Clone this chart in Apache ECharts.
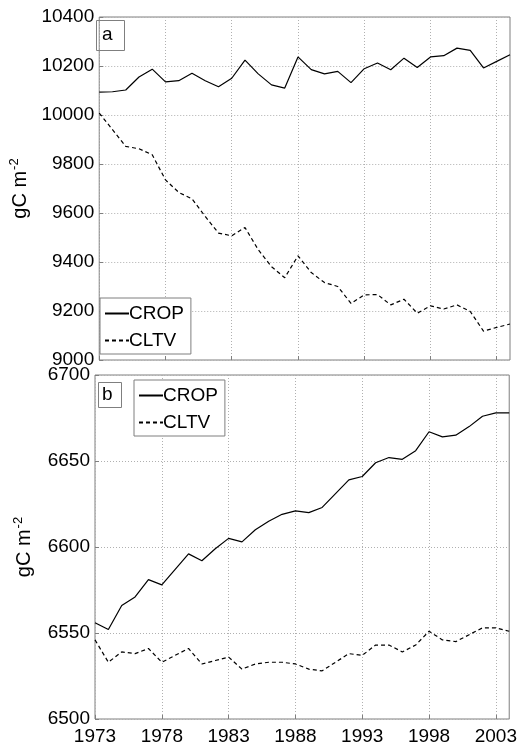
<!DOCTYPE html>
<html>
<head>
<meta charset="utf-8">
<script src="https://cdn.jsdelivr.net/npm/echarts@6/dist/echarts.min.js"></script>
<style>
  html, body { margin: 0; padding: 0; background: #fff; }
  #main { width: 520px; height: 747px; }
</style>
</head>
<body>
<div id="main"></div>
<script>
// years 1973-2004
const years = [1973, 1974, 1975, 1976, 1977, 1978, 1979, 1980, 1981, 1982, 1983, 1984, 1985, 1986, 1987, 1988,
  1989, 1990, 1991, 1992, 1993, 1994, 1995, 1996, 1997, 1998, 1999, 2000, 2001, 2002, 2003, 2004];
const xTicks = [1973, 1978, 1983, 1988, 1993, 1998, 2003];

// panel a
const cropA = [10093, 10095, 10102, 10155, 10187, 10135, 10140, 10170, 10140, 10115, 10150, 10224, 10168, 10123, 10110, 10237,
  10185, 10168, 10178, 10132, 10189, 10212, 10185, 10232, 10194, 10237, 10242, 10273, 10264, 10192, 10219, 10246];
const cltvA = [10008, 9940, 9872, 9862, 9838, 9735, 9684, 9658, 9586, 9518, 9507, 9541, 9450, 9381, 9336, 9425,
  9357, 9316, 9300, 9231, 9266, 9267, 9225, 9248, 9191, 9221, 9208, 9225, 9198, 9118, 9133, 9147];

// panel b
const cropB = [6556, 6552, 6566, 6571, 6581, 6578, 6587, 6596, 6592, 6599, 6605, 6603, 6610, 6615, 6619, 6621,
  6620, 6623, 6631, 6639, 6641, 6649, 6652, 6651, 6656, 6667, 6664, 6665, 6670, 6676, 6678, 6678];
const cltvB = [6546, 6533, 6539, 6538, 6541, 6533, 6537, 6541, 6532, 6534, 6536, 6529, 6532, 6533, 6533, 6532,
  6529, 6528, 6533, 6538, 6537, 6543, 6543, 6539, 6543, 6551, 6546, 6545, 6549, 6553, 6553, 6551];

const pairs = (vals) => years.map((y, i) => [y, vals[i]]);

const FONT = 'Liberation Sans, Arial, Helvetica, sans-serif';
const FS = 19;
const frame = '#7f7f7f';
const gridLine = { show: true, lineStyle: { color: '#b0b0b0', type: [1, 2], width: 1 } };

function xAxisFor(gridIndex, showLabels) {
  return {
    type: 'value', gridIndex, min: 1973, max: 2004, interval: 5,
    axisLine: { show: false },
    axisTick: { show: true, inside: true, length: 4, lineStyle: { color: frame }, customValues: xTicks },
    axisLabel: { show: showLabels, customValues: xTicks, color: '#000', fontSize: FS, fontFamily: FONT, margin: 8,
      formatter: (v) => String(v) },
    splitLine: gridLine
  };
}

function yAxisFor(gridIndex, min, max, interval) {
  return {
    type: 'value', gridIndex, min, max, interval,
    axisLine: { show: false },
    axisTick: { show: true, inside: true, length: 4, lineStyle: { color: frame } },
    axisLabel: { color: '#000', fontSize: FS, fontFamily: FONT, margin: 5, formatter: (v) => String(v) },
    splitLine: gridLine,
    name: '{t|gC m}{s|-2}',
    nameLocation: 'middle',
    nameRotate: 90,
    nameGap: 58,
    nameTextStyle: {
      rich: {
        t: { fontSize: 20, fontFamily: FONT, color: '#000' },
        s: { fontSize: 13, fontFamily: FONT, color: '#000', verticalAlign: 'top', padding: [0, 0, 12, 1] }
      }
    }
  };
}

function lineSeries(name, vals, idx, dashed) {
  return {
    name, type: 'line', xAxisIndex: idx, yAxisIndex: idx,
    data: pairs(vals), symbol: 'none', animation: false,
    lineStyle: { color: '#000', width: 1.2, type: dashed ? [4, 3] : 'solid' },
    itemStyle: { color: '#000' }
  };
}

const legendBase = {
  orient: 'vertical',
  data: ['CROP', 'CLTV'],
  itemWidth: 24, itemHeight: 14, itemGap: 8,
  borderColor: frame, borderWidth: 1, backgroundColor: '#fff',
  padding: [6, 7, 4, 4],
  itemStyle: { opacity: 0 },
  textStyle: { fontSize: FS, fontFamily: FONT, color: '#000', padding: [0, 0, 0, -5] },
  selectedMode: false
};

const chart = echarts.init(document.getElementById('main'));
chart.setOption({
  animation: false,
  backgroundColor: '#fff',
  title: [
    { text: 'a', left: 96, top: 20, borderColor: frame, borderWidth: 1, padding: [5, 12, 7, 6],
      textStyle: { fontSize: FS, fontWeight: 'normal', fontFamily: FONT, color: '#000' } },
    { text: 'b', left: 98, top: 382, borderColor: frame, borderWidth: 1, padding: [3, 9, 4, 4],
      textStyle: { fontSize: FS, fontWeight: 'normal', fontFamily: FONT, color: '#000' } }
  ],
  grid: [
    { left: 95, right: 10, top: 17, height: 343, show: true, borderColor: frame, borderWidth: 1 },
    { left: 95, right: 10, top: 375, height: 344, show: true, borderColor: frame, borderWidth: 1 }
  ],
  xAxis: [xAxisFor(0, false), xAxisFor(1, true)],
  yAxis: [yAxisFor(0, 9000, 10400, 200), yAxisFor(1, 6500, 6700, 50)],
  legend: [
    Object.assign({}, legendBase, { left: 100, top: 298 }),
    Object.assign({}, legendBase, { left: 134, top: 380 })
  ],
  series: [
    lineSeries('CROP', cropA, 0, false),
    lineSeries('CLTV', cltvA, 0, true),
    lineSeries('CROP', cropB, 1, false),
    lineSeries('CLTV', cltvB, 1, true)
  ]
});
</script>
</body>
</html>
